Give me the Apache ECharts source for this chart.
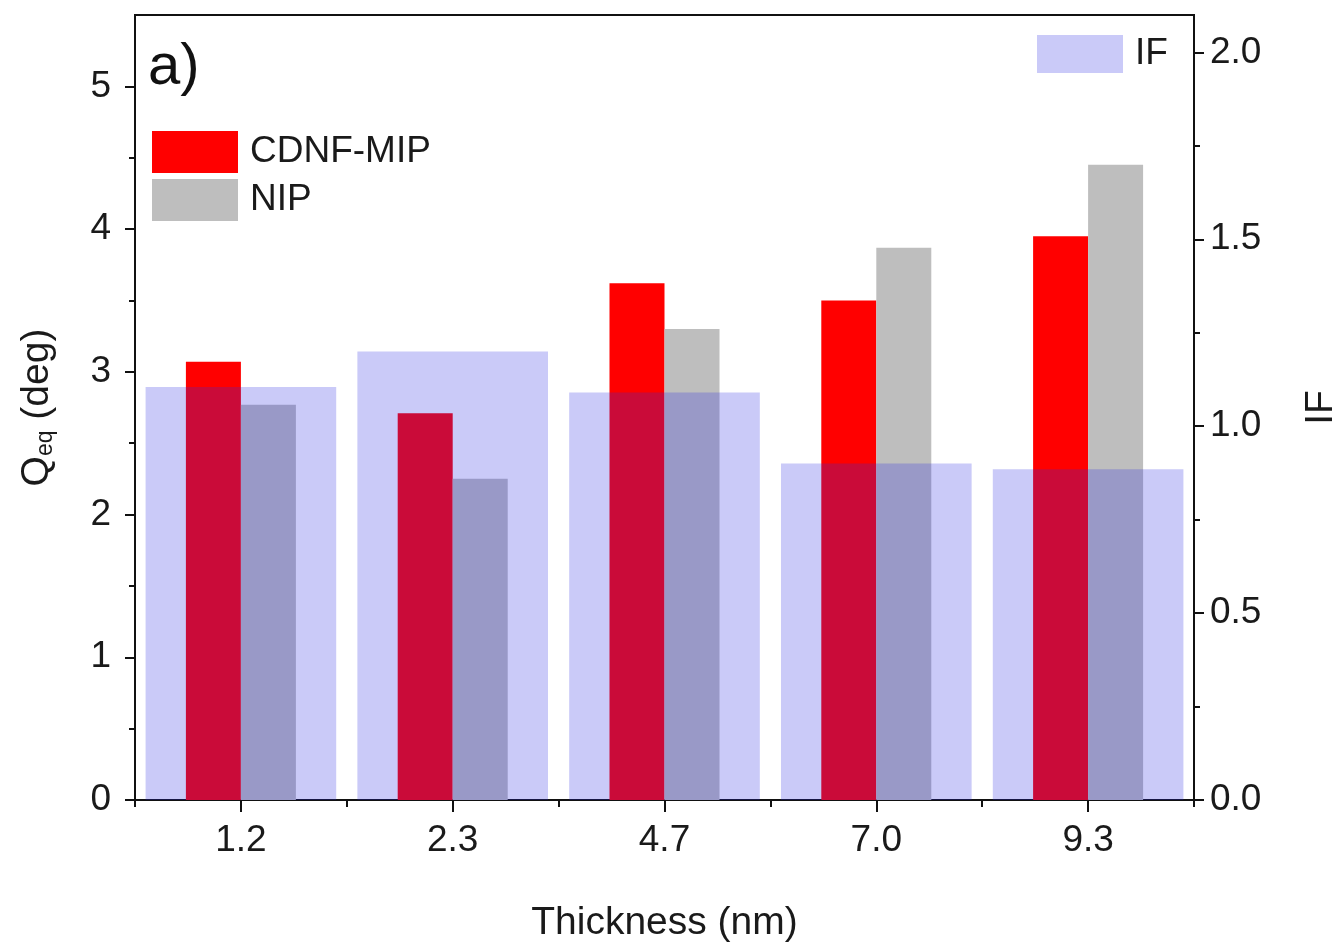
<!DOCTYPE html>
<html>
<head>
<meta charset="utf-8">
<title>Qeq and IF vs thickness</title>
<script src="https://cdn.jsdelivr.net/npm/echarts@6/dist/echarts.min.js"></script>
<style>
  html, body { margin: 0; padding: 0; background: #fff; }
  #chart { width: 1335px; height: 949px; }
</style>
</head>
<body>
<div id="chart"></div>
<script>
// data
const thickness = ['1.2', '2.3', '4.7', '7.0', '9.3'];
const mipValues = [3.07, 2.71, 3.62, 3.50, 3.95];   // CDNF-MIP, Qeq (deg)
const nipValues = [2.77, 2.25, 3.30, 3.87, 4.45];   // NIP, Qeq (deg)
const ifValues  = [1.105, 1.20, 1.09, 0.90, 0.885]; // IF (right axis)
const leftTicks  = [0, 1, 2, 3, 4, 5];
const leftMinor  = [0.5, 1.5, 2.5, 3.5, 4.5];
const rightTicks = [0, 0.5, 1.0, 1.5, 2.0];
const rightMinor = [0.25, 0.75, 1.25, 1.75];

const FONT = "'Liberation Sans', Arial, sans-serif";
const chart = echarts.init(document.getElementById('chart'));

const axisLine = { show: true, lineStyle: { color: '#111', width: 2 } };
const labelStyle = { color: '#1a1a1a', fontSize: 37, fontFamily: FONT };

const option = {
  animation: false,
  backgroundColor: '#fff',
  title: {
    text: 'a)',
    left: 143, top: 34,
    textStyle: { fontSize: 58, fontWeight: 'normal', color: '#111', fontFamily: FONT }
  },
  grid: {
    left: 135, right: 141, top: 15, bottom: 149,
    outerBoundsMode: 'none',
    show: true, borderColor: '#111', borderWidth: 2, backgroundColor: 'transparent'
  },
  legend: [
    {
      data: ['CDNF-MIP', 'NIP'],
      orient: 'vertical',
      left: 147, top: 126,
      icon: 'rect',
      itemWidth: 86, itemHeight: 42, itemGap: 6,
      textStyle: { fontSize: 37, color: '#1a1a1a', fontFamily: FONT, padding: [0, 0, 0, 7] }
    },
    {
      data: ['IF'],
      left: 1032, top: 30,
      icon: 'rect',
      itemWidth: 86, itemHeight: 38,
      textStyle: { fontSize: 37, color: '#1a1a1a', fontFamily: FONT, padding: [0, 0, 0, 7] }
    }
  ],
  xAxis: [
    {
      type: 'category', data: thickness, position: 'bottom',
      name: 'Thickness (nm)', nameLocation: 'middle', nameGap: 104,
      nameTextStyle: { fontSize: 39, color: '#1a1a1a', fontFamily: FONT },
      axisLine: axisLine,
      axisTick: { show: true, alignWithLabel: true, length: 12, lineStyle: { color: '#111', width: 2 } },
      axisLabel: Object.assign({ margin: 22 }, labelStyle),
      splitLine: { show: false }
    },
    {
      // second category axis for the wide IF bars, also gives the in-between ticks
      type: 'category', data: thickness, position: 'bottom',
      axisLine: { show: false },
      axisTick: { show: true, alignWithLabel: false, length: 7, lineStyle: { color: '#111', width: 2 } },
      axisLabel: { show: false },
      splitLine: { show: false }
    }
  ],
  yAxis: [
    {
      type: 'value', min: 0, max: 5.5, position: 'left',
      name: '{q|Q}{sub|eq}{q| (deg)}', nameLocation: 'middle', nameGap: 78, nameRotate: 90,
      nameTextStyle: {
        fontFamily: FONT, color: '#1a1a1a',
        rich: {
          q: { fontSize: 39, fontFamily: FONT, color: '#1a1a1a' },
          sub: { fontSize: 23, fontFamily: FONT, color: '#1a1a1a', verticalAlign: 'bottom', padding: [16, 0, 0, 0] }
        }
      },
      axisLine: axisLine,
      axisTick: { show: true, customValues: leftTicks, length: 10, lineStyle: { color: '#111', width: 2 } },
      axisLabel: Object.assign({ customValues: leftTicks, margin: 24 }, labelStyle),
      splitLine: { show: false }
    },
    {
      type: 'value', min: 0, max: 2.1, position: 'right',
      name: 'IF', nameLocation: 'middle', nameGap: 108, nameRotate: 90,
      nameTextStyle: { fontSize: 39, color: '#1a1a1a', fontFamily: FONT },
      axisLine: axisLine,
      axisTick: { show: true, customValues: rightTicks, length: 10, lineStyle: { color: '#111', width: 2 } },
      axisLabel: Object.assign({ customValues: rightTicks, margin: 16, formatter: v => v.toFixed(1) }, labelStyle),
      splitLine: { show: false }
    },
    {
      // minor ticks, left
      type: 'value', min: 0, max: 5.5, position: 'left',
      axisLine: { show: false },
      axisTick: { show: true, customValues: leftMinor, length: 6, lineStyle: { color: '#111', width: 2 } },
      axisLabel: { show: false },
      splitLine: { show: false }
    },
    {
      // minor ticks, right
      type: 'value', min: 0, max: 2.1, position: 'right',
      axisLine: { show: false },
      axisTick: { show: true, customValues: rightMinor, length: 6, lineStyle: { color: '#111', width: 2 } },
      axisLabel: { show: false },
      splitLine: { show: false }
    }
  ],
  series: [
    {
      name: 'CDNF-MIP', type: 'bar', data: mipValues,
      xAxisIndex: 0, yAxisIndex: 0,
      barWidth: 55, barGap: '0%',
      itemStyle: { color: '#ff0000' }, z: 2
    },
    {
      name: 'NIP', type: 'bar', data: nipValues,
      xAxisIndex: 0, yAxisIndex: 0,
      barWidth: 55, barGap: '0%',
      itemStyle: { color: '#bebebe' }, z: 2
    },
    {
      name: 'IF', type: 'bar', data: ifValues,
      xAxisIndex: 1, yAxisIndex: 1,
      barWidth: '90%',
      itemStyle: { color: 'rgba(43,43,227,0.25)' }, z: 3
    }
  ]
};

chart.setOption(option);
</script>
</body>
</html>
